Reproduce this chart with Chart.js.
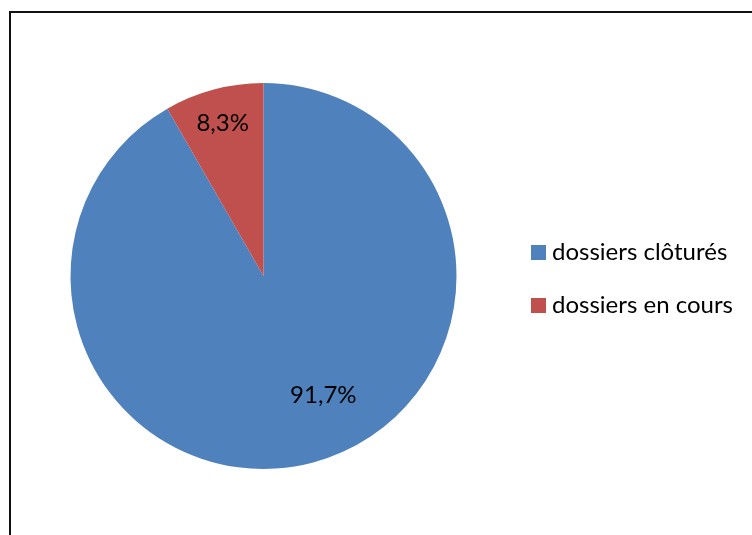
<!DOCTYPE html>
<html>
<head>
<meta charset="utf-8">
<script src="https://cdn.jsdelivr.net/npm/chart.js@4"></script>
<style>
  html, body { margin: 0; padding: 0; background: #fff; }
  #wrap { position: relative; width: 752px; height: 535px; overflow: hidden; }
  #frame {
    position: absolute; left: 9px; top: 11px; width: 800px; height: 600px;
    border-left: 2px solid #111; border-top: 2px solid #111;
  }
  #myChart { position: absolute; left: 0; top: 0; }
</style>
</head>
<body>
<div id="wrap">
  <div id="frame"></div>
  <canvas id="myChart" width="752" height="535"></canvas>
</div>
<script>
const categories = ['dossiers clôturés', 'dossiers en cours'];
const values = [91.7, 8.3];
const colors = ['#4F81BD', '#C0504D'];

const fontFamily = 'Lato, "Open Sans", sans-serif';

// percentage labels placed along each slice's middle angle
const sliceLabels = {
  id: 'sliceLabels',
  afterDatasetsDraw(chart, args, opts) {
    const ctx = chart.ctx;
    const meta = chart.getDatasetMeta(0);
    ctx.save();
    ctx.font = opts.font;
    ctx.fillStyle = '#000';
    ctx.textAlign = 'center';
    ctx.textBaseline = 'middle';
    meta.data.forEach((arc, i) => {
      const { x, y, startAngle, endAngle, outerRadius } = arc.getProps(['x', 'y', 'startAngle', 'endAngle', 'outerRadius'], true);
      const mid = (startAngle + endAngle) / 2;
      const r = outerRadius * opts.ratio[i];
      const text = values[i].toFixed(1).replace('.', ',') + '%';
      ctx.fillText(text, x + Math.cos(mid) * r + opts.shiftX[i], y + Math.sin(mid) * r);
    });
    ctx.restore();
  }
};

// legend on the right side
const sideLegend = {
  id: 'sideLegend',
  afterDraw(chart, args, opts) {
    const ctx = chart.ctx;
    ctx.save();
    ctx.font = opts.font;
    ctx.textBaseline = 'middle';
    categories.forEach((name, i) => {
      const y = opts.top + i * opts.step;
      ctx.fillStyle = colors[i];
      ctx.fillRect(opts.left, y - 7, 15, 15);
      ctx.fillStyle = '#000';
      ctx.fillText(name, opts.left + 21, y);
    });
    ctx.restore();
  }
};

const ctx = document.querySelector('#myChart').getContext('2d');

new Chart(ctx, {
  type: 'pie',
  data: {
    labels: categories,
    datasets: [{
      data: values,
      backgroundColor: colors,
      borderWidth: 0
    }]
  },
  options: {
    responsive: false,
    animation: false,
    layout: {
      padding: { top: 83, bottom: 66, left: 70, right: 295 }
    },
    plugins: {
      legend: { display: false },
      tooltip: { enabled: false },
      sliceLabels: { font: '24px ' + fontFamily, ratio: [0.64, 0.82], shiftX: [28, 0] },
      sideLegend: { font: '24px ' + fontFamily, left: 531, top: 252, step: 53 }
    }
  },
  plugins: [sliceLabels, sideLegend]
});
</script>
</body>
</html>
